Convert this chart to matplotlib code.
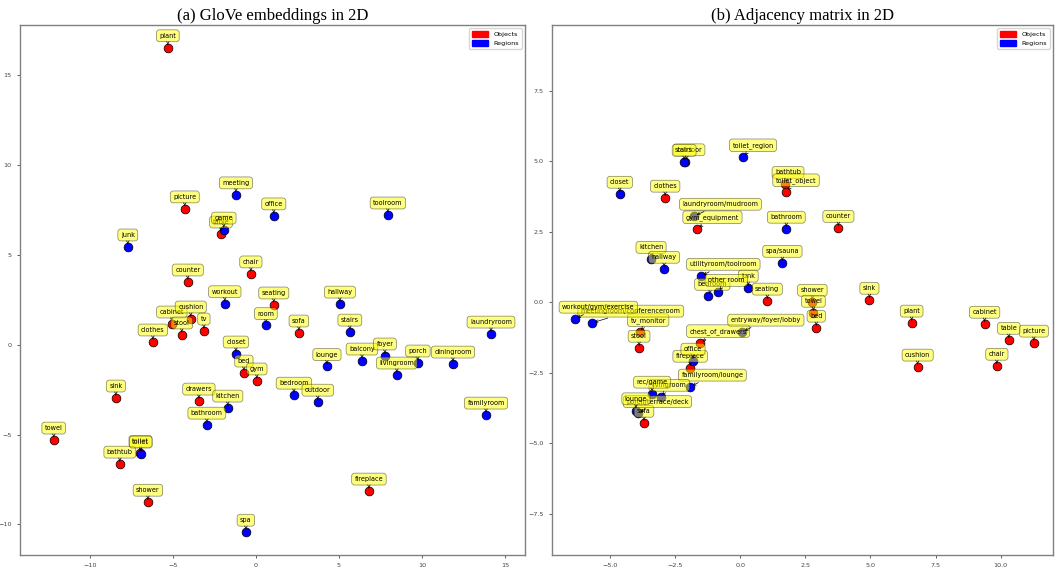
import numpy as np
import matplotlib.pyplot as plt
from matplotlib.patches import Patch

# ---- (a) GloVe embeddings, 2D projection ----
glove_obj_names = ['plant', 'picture', 'table', 'chair', 'counter', 'seating', 'sofa',
                   'cabinet', 'cushion', 'tv', 'stool', 'clothes', 'bed', 'gym', 'sink',
                   'drawers', 'towel', 'toilet', 'bathtub', 'shower', 'fireplace']
glove_obj_x = [-5.30, -4.28, -2.10, -0.30, -4.10, 1.08, 2.59,
               -5.06, -3.92, -3.13, -4.46, -6.20, -0.72, 0.06, -8.43,
               -3.43, -12.17, -6.95, -8.19, -6.50, 6.81]
glove_obj_y = [16.55, 7.58, 6.18, 3.96, 3.51, 2.23, 0.67,
               1.17, 1.45, 0.78, 0.56, 0.17, -1.56, -2.00, -2.95,
               -3.12, -5.29, -6.03, -6.63, -8.75, -8.13]

glove_reg_names = ['meeting', 'office', 'toolroom', 'game', 'junk', 'workout', 'hallway',
                   'room', 'stairs', 'closet', 'lounge', 'balcony', 'foyer', 'porch',
                   'livingroom', 'diningroom', 'laundryroom', 'familyroom', 'bedroom',
                   'outdoor', 'kitchen', 'bathroom', 'toilet', 'spa']
glove_reg_x = [-1.20, 1.08, 7.95, -1.93, -7.71, -1.87, 5.06,
               0.60, 5.66, -1.20, 4.28, 6.39, 7.77, 9.76,
               8.49, 11.87, 14.16, 13.86, 2.29,
               3.73, -1.69, -2.95, -6.93, -0.60]
glove_reg_y = [8.36, 7.19, 7.24, 6.40, 5.46, 2.30, 2.28,
               1.08, 0.72, -0.50, -1.20, -0.89, -0.61, -1.00,
               -1.67, -1.06, 0.61, -3.90, -2.79,
               -3.18, -3.51, -4.46, -6.07, -10.42]

# ---- (b) adjacency matrix, 2D projection ----
adj_obj_names = ['clothes', 'bathtub', 'toilet_object', 'gym_equipment', 'counter', 'seating',
                 'shower', 'towel', 'bed', 'sink', 'plant', 'cabinet', 'table', 'picture',
                 'cushion', 'chair', 'tv_monitor', 'stool', 'chest_of_drawers', 'fireplace',
                 'sofa']
adj_obj_x = [-2.88, 1.73, 1.77, -1.65, 3.77, 1.04,
             2.77, 2.81, 2.92, 4.96, 6.58, 9.38, 10.31, 11.27,
             6.81, 9.85, -3.85, -3.88, -1.54, -1.92,
             -3.69]
adj_obj_y = [3.69, 4.18, 3.90, 2.59, 2.62, 0.04,
             0.00, -0.39, -0.92, 0.07, -0.74, -0.78, -1.35, -1.45,
             -2.30, -2.27, -1.06, -1.63, -1.45, -2.34,
             -4.29]

adj_reg_names = ['outdoor', 'stairs', 'toilet_region', 'closet', 'laundryroom/mudroom',
                 'bathroom', 'kitchen', 'hallway', 'spa/sauna', 'utilityroom/toolroom',
                 'junk', 'bedroom', 'other room', 'meetingroom/conferenceroom',
                 'workout/gym/exercise', 'entryway/foyer/lobby', 'office',
                 'familyroom/lounge', 'livingroom', 'rec/game', 'porch/terrace/deck', 'lounge']
adj_reg_x = [-2.12, -2.15, 0.12, -4.62, -1.77,
             1.77, -3.42, -2.92, 1.62, -1.50,
             0.31, -1.23, -0.85, -5.69,
             -6.35, 0.08, -1.81,
             -1.92, -3.04, -3.38, -3.92, -4.00]
adj_reg_y = [4.98, 4.96, 5.14, 3.83, 3.05,
             2.59, 1.52, 1.17, 1.38, 0.92,
             0.50, 0.21, 0.35, -0.74,
             -0.60, -1.06, -2.09,
             -3.01, -3.37, -3.26, -3.95, -3.85]

# sideways nudges of some labels in panel (b), in points
shift_b = {'toilet_region': 7, 'toilet_object': 7, 'bathtub': 2, 'outdoor': 3,
           'laundryroom/mudroom': 19, 'gym_equipment': 11, 'utilityroom/toolroom': 16,
           'other room': 6, 'bedroom': 3, 'workout/gym/exercise': 17,
           'meetingroom/conferenceroom': 28, 'chest_of_drawers': 13,
           'entryway/foyer/lobby': 17, 'familyroom/lounge': 16, 'tv_monitor': 6,
           'livingroom': 6, 'porch/terrace/deck': 14}


def draw(ax, on, ox, oy, rn, rx, ry, shift):
    ax.scatter(ox, oy, c='red', s=40, edgecolors='black', linewidths=0.5, zorder=2)
    ax.scatter(rx, ry, c='blue', s=40, edgecolors='black', linewidths=0.5, zorder=2)
    for names, xs, ys in ((on, ox, oy), (rn, rx, ry)):
        for n, x, y in zip(names, xs, ys):
            ax.annotate(n, xy=(x, y), xytext=(shift.get(n, 0), 8.5),
                        textcoords='offset points', ha='center', va='center',
                        fontsize=4.7,
                        bbox=dict(boxstyle='round,pad=0.45', fc='yellow', ec='black',
                                  lw=0.5, alpha=0.5),
                        arrowprops=dict(arrowstyle='->', lw=0.5, color='black'))
    ax.tick_params(labelsize=4.6, length=2.5, width=0.6, colors='#444444')
    for s in ax.spines.values():
        s.set_color('#808080')
        s.set_linewidth(1.0)
    ax.legend(handles=[Patch(color='red', label='Objects'), Patch(color='blue', label='Regions')],
              loc='upper right', fontsize=4.6, handlelength=2.6, handleheight=1.0)


fig = plt.figure(figsize=(10.55, 5.71), dpi=100)
ax1 = fig.add_axes([0.019, 0.028, 0.4785, 0.928])
ax2 = fig.add_axes([0.523, 0.028, 0.475, 0.928])

draw(ax1, glove_obj_names, glove_obj_x, glove_obj_y,
     glove_reg_names, glove_reg_x, glove_reg_y, {})
ax1.set_xlim(-14.2, 16.2)
ax1.set_ylim(-11.7, 17.8)
ax1.set_xticks(np.arange(-10, 16, 5))
ax1.set_yticks(np.arange(-10, 16, 5))
ax1.set_title('(a) GloVe embeddings in 2D', fontfamily='Liberation Serif', fontsize=12, pad=4)

draw(ax2, adj_obj_names, adj_obj_x, adj_obj_y,
     adj_reg_names, adj_reg_x, adj_reg_y, shift_b)
ax2.set_xlim(-7.23, 12.0)
ax2.set_ylim(-8.97, 9.82)
ax2.set_xticks(np.arange(-5, 10.1, 2.5))
ax2.set_yticks(np.arange(-7.5, 7.6, 2.5))
ax2.set_title('(b) Adjacency matrix in 2D', fontfamily='Liberation Serif', fontsize=12, pad=4)

fig.savefig('out.png', dpi=100)
